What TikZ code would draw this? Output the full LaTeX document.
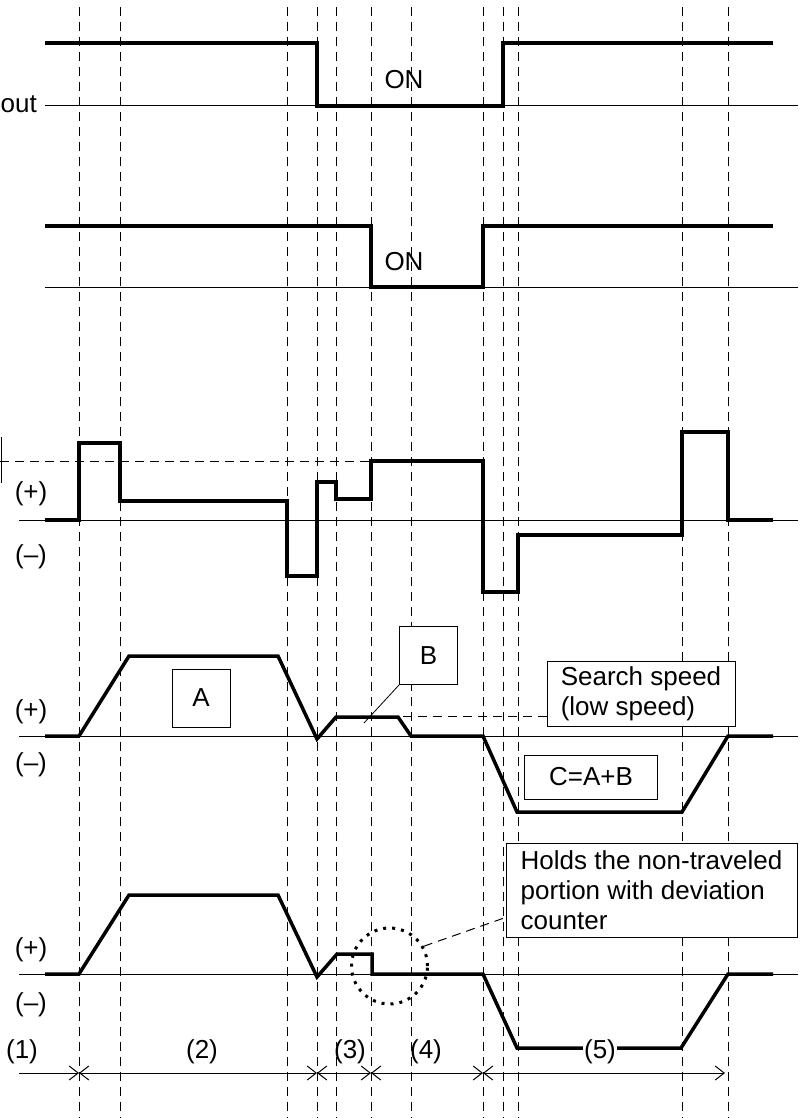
\documentclass[tikz,border=0pt]{standalone}
\usepackage{fontspec}
\setmainfont{Liberation Sans}
\usetikzlibrary{arrows.meta,positioning}

\begin{document}
\begin{tikzpicture}[x=1pt, y=-1pt,
  every node/.style={font=\fontsize{26}{30}\selectfont},
  vline/.style={line width=1pt, dash pattern=on 9pt off 6pt},
  wave/.style={line width=3.5pt, line join=miter},
  axis/.style={line width=1pt},
  tag/.style={draw, line width=1pt, fill=white, inner sep=0pt},
  barb/.tip={Straight Barb[length=9pt,width=14pt]},
  dim/.style={line width=1pt, barb-barb}]
  \fill[white] (0,0) rectangle (803,1118);
  \useasboundingbox (0,0) rectangle (803,1118);

  % timing grid
  \foreach \x in {79,120,287,317,336,371,411,483,503,518,682,728}
    \draw[vline] (\x,7) -- (\x,1118);

  % signal 1
  \draw[axis] (45,106) -- (798,106);
  \draw[wave] (45,43) -- (317,43) -- (317,106) -- (503,106) -- (503,43) -- (773,43);
  \node[anchor=east, inner xsep=0pt] (out) at (37,104) {out};
  \node (on1) at (404,80) {ON};

  % signal 2
  \draw[axis] (45,287) -- (798,287);
  \draw[wave] (45,226) -- (371,226) -- (371,287) -- (483,287) -- (483,226) -- (773,226);
  \node (on2) at (404,262) {ON};

  % command
  \draw[axis] (19,520) -- (798,520);
  \draw[vline] (0,461) -- (371,461);
  \draw[line width=1.5pt] (1.5,437) -- (1.5,483);
  \draw[wave] (45,520) -- (79,520) -- (79,443) -- (120,443) -- (120,501) -- (287,501)
    -- (287,576) -- (317,576) -- (317,482) -- (336,482) -- (336,499) -- (371,499)
    -- (371,461) -- (483,461) -- (483,592) -- (518,592) -- (518,535) -- (682,535)
    -- (682,432) -- (728,432) -- (728,520) -- (773,520);
  \node (p1) at (31,494) {(+)};
  \node (m1) at (31,557) {(--)};

  % speed
  \draw[axis] (19,736) -- (798,736);
  \draw[wave] (45,736) -- (79,736) -- (129,656) -- (278,656) -- (317,739) -- (336,717)
    -- (398,717) -- (411,736) -- (483,736) -- (517,812) -- (682,812) -- (728,736) -- (773,736);
  \node (p2) at (31,712) {(+)};
  \node (m2) at (31,765) {(--)};
  \node[tag, minimum width=58pt, minimum height=58pt] (boxA) at (201,698) {A};
  \node[tag, minimum width=58pt, minimum height=58pt] (boxB) at (428.5,655.5) {B};
  \node[tag, minimum width=188pt, minimum height=65pt, align=left] (search) at (641,693.5)
    {Search speed\\(low speed)};
  \node[tag, minimum width=133pt, minimum height=44pt] (boxC) at (591,777) {C=A+B};
  \coordinate (bTip) at (364,723);
  \coordinate (sTip) at (401,716);
  \draw[line width=0.8pt] (boxB.south west) -- (bTip);
  \draw[vline] (search.west |- sTip) -- (sTip);

  % feedback
  \draw[axis] (19,974) -- (798,974);
  \draw[wave] (45,974) -- (79,974) -- (129,895) -- (278,895) -- (317,977) -- (337,954)
    -- (372,954) -- (372,974) -- (483,974) -- (517,1048) -- (681,1048) -- (728,974) -- (773,974);
  \node (p3) at (31,950) {(+)};
  \node (m3) at (31,1005) {(--)};
  \node[circle, draw, line width=3pt, dash pattern=on 3pt off 6pt, minimum size=76pt,
    inner sep=0pt] (hold) at (389.5,966) {};
  \node[tag, minimum width=291pt, minimum height=94pt, align=left] (holdbox) at (651.5,890)
    {Holds the non-traveled\\portion with deviation\\counter};
  \draw[vline] (hold.30) -- ([yshift=20pt]holdbox.south west);

  % steps
  \coordinate (t0) at (19,1073);
  \coordinate (t1) at (79,1073);
  \coordinate (t2) at (317,1073);
  \coordinate (t3) at (371,1073);
  \coordinate (t4) at (483,1073);
  \coordinate (t5) at (725,1073);
  \draw[line width=1pt, -barb] (t0) -- (t1);
  \draw[dim] (t1) -- (t2);
  \draw[dim] (t2) -- (t3);
  \draw[dim] (t3) -- (t4);
  \draw[dim] (t4) -- (t5);
  \node (s1) at (22,1052) {(1)};
  \node (s2) at (202,1052) {(2)};
  \node (s3) at (350,1052) {(3)};
  \node (s4) at (426,1052) {(4)};
  \node[fill=white, inner sep=1pt] (s5) at (600,1052) {(5)};
\end{tikzpicture}
\end{document}
